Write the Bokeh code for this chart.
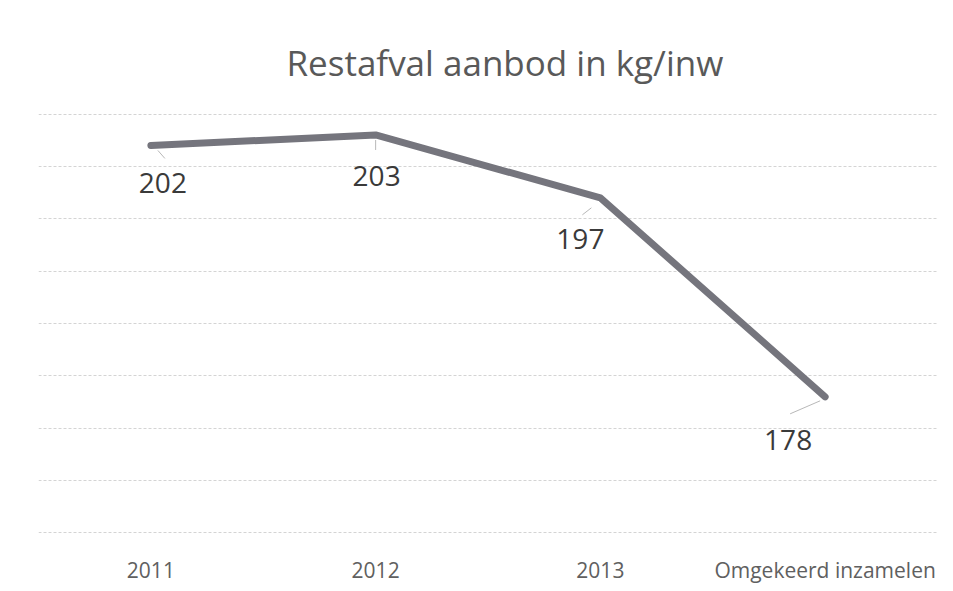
from bokeh.plotting import figure
from bokeh.models import ColumnDataSource, Range1d, FixedTicker, Title
from bokeh.core.properties import value
from bokeh.embed import file_html
from bokeh.resources import INLINE

categories = ["2011", "2012", "2013", "Omgekeerd inzamelen"]
values = [202, 203, 197, 178]
labels = ["202", "203", "197", "178"]
grid_ticks = [165, 170, 175, 180, 185, 190, 195, 200, 205]

# label placement (pixels, style)
label_dx = [12, 1, -20, -37]
label_dy = [38, 41, 41, 43]
# leader lines (pixels, style): start and end offsets from the point
lead_x0 = [7, 0, -9, -5]
lead_y0 = [5, 5, 10, 4]
lead_x1 = [14, 0, -18, -35]
lead_y1 = [13, 15, 17, 17]

W, H = 937, 591
LEFT, RIGHT, TOP, BOTTOM = 38, 0, 113, 58
ymin, ymax = 164.95, 205.05
px_per_cat = (W - LEFT - RIGHT) / len(categories)
px_per_unit = (H - TOP - BOTTOM) / (ymax - ymin)

idx = [i + 0.5 for i in range(len(categories))]
src = ColumnDataSource(dict(x=categories, y=values, lab=labels, dx=label_dx, dy=label_dy))
lead = ColumnDataSource(dict(
    x0=[c + a / px_per_cat for c, a in zip(idx, lead_x0)],
    x1=[c + a / px_per_cat for c, a in zip(idx, lead_x1)],
    y0=[v - b / px_per_unit for v, b in zip(values, lead_y0)],
    y1=[v - b / px_per_unit for v, b in zip(values, lead_y1)],
))

p = figure(width=W, height=H, x_range=categories, y_range=Range1d(ymin, ymax),
           output_backend="svg", toolbar_location=None,
           min_border_left=LEFT, min_border_right=RIGHT,
           min_border_top=TOP, min_border_bottom=BOTTOM)
p.x_range.range_padding = 0
p.outline_line_color = None
p.background_fill_color = "white"
p.border_fill_color = "white"

p.title = Title(text="Restafval aanbod in kg/inw", align="left", offset=248,
                text_font="Open Sans", text_font_size="35px", text_font_style="normal",
                text_color="#595959", standoff=56)

p.yaxis.visible = False
p.xgrid.grid_line_color = None
p.ygrid.ticker = FixedTicker(ticks=grid_ticks)
p.ygrid.grid_line_color = "#d4d4d4"
p.ygrid.grid_line_dash = "3 2"
p.ygrid.grid_line_width = 1

ax = p.xaxis[0]
ax.axis_line_color = None
ax.major_tick_line_color = None
ax.minor_tick_line_color = None
ax.major_label_text_font = "Open Sans"
ax.major_label_text_font_size = "21px"
ax.major_label_text_color = "#606060"
ax.major_label_standoff = 16

p.segment(x0="x0", y0="y0", x1="x1", y1="y1", source=lead,
          line_color="#b8b8b8", line_width=1)

p.line(x="x", y="y", source=src, line_color="#75757d", line_width=7,
       line_cap="round", line_join="round")

p.text(x="x", y="y", text="lab", source=src, x_offset="dx", y_offset="dy",
       text_font=value("Open Sans"), text_font_size="28px", text_color="#3a3a3a",
       text_align="center", text_baseline="middle")

open("out.html", "w").write(file_html(p, INLINE))
